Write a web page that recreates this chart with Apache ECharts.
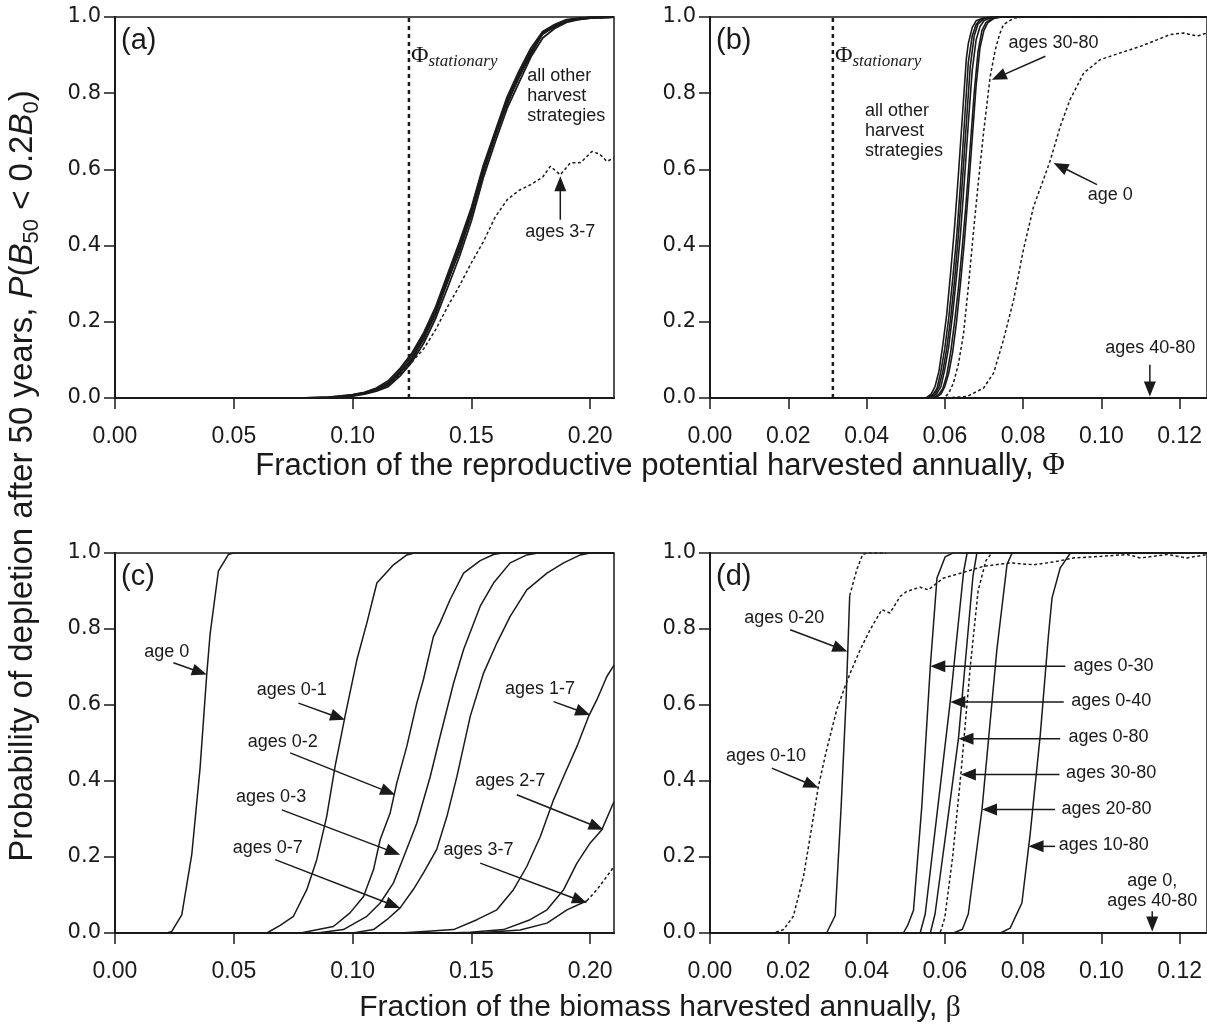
<!DOCTYPE html>
<html><head><meta charset="utf-8">
<script src="https://cdn.jsdelivr.net/npm/echarts@6/dist/echarts.min.js"></script>
<style>html,body{margin:0;padding:0;background:#fff}#c{width:1207px;height:1028px}</style>
</head><body><div id="c"></div>
<script>
// ---------- tick values ----------
const yTicks = [0, 0.2, 0.4, 0.6, 0.8, 1.0];
const xTicksAC = [0, 0.05, 0.10, 0.15, 0.20];
const xTicksBD = [0, 0.02, 0.04, 0.06, 0.08, 0.10, 0.12];
const xMaxAC = 0.21, xMaxBD = 0.127;
const phiStationaryA = 0.1237, phiStationaryB = 0.0314;

// ---------- panel (a) ----------
const a_other1 = [[0,0],[0.08,0],[0.09,0.001],[0.095,0.003],[0.1,0.006],[0.105,0.012],[0.11,0.02],[0.115,0.035],[0.12,0.065],[0.125,0.105],[0.13,0.155],[0.135,0.225],[0.14,0.305],[0.145,0.39],[0.15,0.48],[0.155,0.595],[0.16,0.685],[0.165,0.775],[0.17,0.84],[0.175,0.905],[0.18,0.955],[0.185,0.975],[0.19,0.99],[0.195,0.995],[0.2,0.998],[0.21,1]];
const a_other2 = [[0,0],[0.08,0],[0.09,0.002],[0.095,0.004],[0.1,0.008],[0.105,0.014],[0.11,0.024],[0.115,0.04],[0.12,0.072],[0.125,0.112],[0.13,0.165],[0.135,0.232],[0.14,0.318],[0.145,0.40],[0.15,0.49],[0.155,0.60],[0.16,0.695],[0.165,0.782],[0.17,0.85],[0.175,0.91],[0.18,0.958],[0.185,0.978],[0.19,0.992],[0.195,0.996],[0.2,0.999],[0.21,1]];
const a_other3 = [[0,0],[0.085,0],[0.095,0.002],[0.1,0.005],[0.105,0.01],[0.11,0.018],[0.115,0.03],[0.12,0.058],[0.125,0.095],[0.13,0.145],[0.135,0.21],[0.14,0.29],[0.145,0.372],[0.15,0.465],[0.155,0.578],[0.16,0.672],[0.165,0.76],[0.17,0.828],[0.175,0.895],[0.18,0.945],[0.185,0.97],[0.19,0.986],[0.195,0.993],[0.2,0.997],[0.21,1]];
const a_other4 = [[0,0],[0.08,0],[0.09,0.001],[0.1,0.007],[0.105,0.013],[0.11,0.022],[0.115,0.038],[0.12,0.068],[0.125,0.10],[0.13,0.16],[0.135,0.22],[0.14,0.31],[0.145,0.385],[0.15,0.485],[0.155,0.59],[0.16,0.69],[0.165,0.77],[0.17,0.845],[0.175,0.90],[0.18,0.96],[0.185,0.972],[0.19,0.99],[0.2,0.997],[0.21,1]];
const a_other5 = [[0,0],[0.08,0],[0.09,0.002],[0.1,0.009],[0.105,0.015],[0.11,0.026],[0.115,0.045],[0.12,0.078],[0.125,0.118],[0.13,0.172],[0.135,0.24],[0.14,0.325],[0.145,0.41],[0.15,0.50],[0.155,0.61],[0.16,0.70],[0.165,0.79],[0.17,0.858],[0.175,0.918],[0.18,0.962],[0.185,0.98],[0.19,0.993],[0.195,0.997],[0.2,0.999],[0.21,1]];
const a_ages37 = [[0,0],[0.08,0],[0.09,0.001],[0.1,0.006],[0.11,0.02],[0.115,0.034],[0.12,0.06],[0.125,0.095],[0.13,0.13],[0.135,0.18],[0.14,0.24],[0.145,0.295],[0.15,0.355],[0.155,0.41],[0.16,0.475],[0.165,0.52],[0.17,0.545],[0.175,0.56],[0.18,0.58],[0.1832,0.608],[0.1874,0.586],[0.1916,0.617],[0.196,0.618],[0.2007,0.647],[0.204,0.64],[0.207,0.621],[0.21,0.63]];

// ---------- panel (b) ----------
const b_other1 = [[0,0],[0.0555,0],[0.057,0.01],[0.058,0.025],[0.059,0.07],[0.06,0.13],[0.061,0.21],[0.062,0.31],[0.063,0.42],[0.064,0.56],[0.065,0.72],[0.066,0.88],[0.067,0.95],[0.068,0.98],[0.069,0.992],[0.07,0.997],[0.072,1],[0.127,1]];
const b_other2 = [[0,0],[0.056,0],[0.0575,0.01],[0.0585,0.03],[0.0595,0.07],[0.0605,0.13],[0.0615,0.21],[0.0625,0.31],[0.0635,0.43],[0.0645,0.57],[0.0655,0.72],[0.0665,0.87],[0.0675,0.95],[0.0685,0.982],[0.07,0.995],[0.072,1],[0.127,1]];
const b_other3 = [[0,0],[0.0565,0],[0.058,0.012],[0.059,0.03],[0.06,0.075],[0.061,0.135],[0.062,0.22],[0.063,0.32],[0.064,0.43],[0.065,0.57],[0.066,0.72],[0.067,0.86],[0.068,0.94],[0.069,0.975],[0.07,0.99],[0.0715,0.997],[0.073,1],[0.127,1]];
const b_other4 = [[0,0],[0.057,0],[0.0585,0.01],[0.0595,0.025],[0.0605,0.06],[0.0615,0.12],[0.0625,0.2],[0.0635,0.29],[0.0645,0.4],[0.0655,0.52],[0.0665,0.66],[0.0675,0.8],[0.0685,0.91],[0.0695,0.965],[0.0705,0.985],[0.072,0.996],[0.074,1],[0.127,1]];
const b_other5 = [[0,0],[0.0575,0],[0.059,0.01],[0.06,0.03],[0.061,0.065],[0.062,0.12],[0.063,0.2],[0.064,0.3],[0.065,0.41],[0.066,0.54],[0.067,0.68],[0.068,0.82],[0.069,0.92],[0.07,0.965],[0.071,0.985],[0.0725,0.996],[0.0745,1],[0.127,1]];
const b_other6 = [[0,0],[0.0552,0],[0.0565,0.01],[0.0575,0.03],[0.0585,0.07],[0.0595,0.14],[0.0605,0.22],[0.0615,0.33],[0.0625,0.45],[0.0635,0.59],[0.0645,0.74],[0.0655,0.89],[0.066,0.93],[0.067,0.972],[0.068,0.99],[0.07,0.998],[0.072,1],[0.127,1]];
const b_ages3080 = [[0,0],[0.0597,0],[0.061,0.012],[0.0622,0.039],[0.0635,0.09],[0.0648,0.17],[0.066,0.29],[0.0673,0.433],[0.0686,0.57],[0.0699,0.696],[0.0716,0.844],[0.0729,0.914],[0.074,0.955],[0.075,0.98],[0.0776,0.997],[0.08,1],[0.127,1]];
const b_age0 = [[0,0],[0.0597,0],[0.0657,0.004],[0.0699,0.026],[0.0725,0.066],[0.075,0.153],[0.0776,0.258],[0.0801,0.39],[0.0827,0.503],[0.0852,0.573],[0.087,0.625],[0.0895,0.713],[0.092,0.783],[0.0955,0.853],[0.0997,0.888],[0.1049,0.906],[0.11,0.923],[0.1142,0.94],[0.1176,0.954],[0.121,0.958],[0.1245,0.95],[0.127,0.958]];
const b_ages4080 = [[0,0],[0.127,0]];

// ---------- panel (c) ----------
const c_age0 = [[0,0],[0.0218,0],[0.0239,0.004],[0.0281,0.048],[0.0323,0.206],[0.0358,0.434],[0.0386,0.68],[0.04,0.785],[0.0435,0.952],[0.0477,0.996],[0.0498,1],[0.21,1]];
const c_ages01 = [[0,0],[0.0639,0],[0.0695,0.02],[0.0751,0.044],[0.0807,0.114],[0.0849,0.193],[0.0891,0.307],[0.0926,0.438],[0.0968,0.57],[0.1018,0.719],[0.106,0.816],[0.1102,0.921],[0.1172,0.969],[0.1228,0.995],[0.126,1],[0.21,1]];
const c_ages02 = [[0,0],[0.078,0],[0.0919,0.017],[0.0989,0.053],[0.1046,0.096],[0.1088,0.167],[0.1116,0.246],[0.1158,0.316],[0.1186,0.395],[0.1228,0.491],[0.127,0.605],[0.1298,0.667],[0.134,0.78],[0.1368,0.816],[0.141,0.877],[0.1467,0.947],[0.1537,0.98],[0.1593,0.996],[0.163,1],[0.21,1]];
const c_ages03 = [[0,0],[0.085,0],[0.0961,0.009],[0.106,0.044],[0.1116,0.079],[0.1172,0.132],[0.1221,0.21],[0.127,0.289],[0.1326,0.41],[0.1368,0.517],[0.1425,0.658],[0.1467,0.746],[0.1537,0.86],[0.1593,0.921],[0.1663,0.974],[0.1733,0.995],[0.178,1],[0.21,1]];
const c_ages07 = [[0,0],[0.1,0],[0.1088,0.009],[0.1144,0.035],[0.12,0.066],[0.1256,0.115],[0.13,0.16],[0.1354,0.22],[0.1397,0.307],[0.1439,0.412],[0.1495,0.57],[0.1551,0.684],[0.1607,0.763],[0.1663,0.833],[0.1733,0.903],[0.1818,0.947],[0.1888,0.974],[0.1958,0.995],[0.2,1],[0.21,1]];
const c_ages17 = [[0,0],[0.12,0],[0.13,0.004],[0.1425,0.009],[0.1523,0.035],[0.1607,0.061],[0.1677,0.114],[0.1733,0.175],[0.179,0.254],[0.1846,0.351],[0.1888,0.412],[0.1944,0.491],[0.1993,0.57],[0.2028,0.614],[0.207,0.675],[0.21,0.705]];
const c_ages27 = [[0,0],[0.14,0],[0.1495,0.002],[0.1635,0.009],[0.1747,0.035],[0.1818,0.061],[0.1888,0.114],[0.1944,0.184],[0.2,0.237],[0.2049,0.272],[0.2091,0.333],[0.21,0.345]];
const c_ages37solid = [[0,0],[0.15,0],[0.1565,0.002],[0.1705,0.008],[0.1818,0.026],[0.1902,0.061],[0.1986,0.085]];
const c_ages37dotted = [[0.1986,0.085],[0.2028,0.114],[0.207,0.149],[0.21,0.175]];

// ---------- panel (d) ----------
const d_ages010 = [[0,0],[0.0162,0],[0.0188,0.009],[0.0213,0.044],[0.0239,0.149],[0.0256,0.254],[0.0277,0.386],[0.0298,0.482],[0.0324,0.588],[0.0345,0.649],[0.0362,0.693],[0.0384,0.746],[0.0409,0.798],[0.0439,0.851],[0.046,0.842],[0.0486,0.886],[0.0503,0.899],[0.0537,0.91],[0.0558,0.903],[0.058,0.921],[0.0597,0.934],[0.0657,0.952],[0.0699,0.965],[0.0767,0.974],[0.0827,0.969],[0.0887,0.978],[0.0929,0.987],[0.0997,0.991],[0.1066,0.996],[0.11,0.987],[0.1168,0.996],[0.1219,0.987],[0.127,0.996]];
const d_ages020solid = [[0,0],[0.0298,0],[0.032,0.046],[0.0335,0.33],[0.0348,0.62],[0.0357,0.888]];
const d_ages020dotted = [[0.0357,0.888],[0.0375,0.956],[0.039,0.996],[0.04,1],[0.045,1]];
const d_ages030 = [[0,0],[0.0494,0],[0.0505,0.02],[0.052,0.06],[0.0541,0.33],[0.0563,0.702],[0.058,0.934],[0.0601,0.99],[0.062,1],[0.127,1]];
const d_ages040 = [[0,0],[0.0537,0],[0.055,0.05],[0.0582,0.33],[0.0614,0.61],[0.0638,0.85],[0.0648,0.95],[0.0657,1],[0.127,1]];
const d_ages080 = [[0,0],[0.0563,0],[0.0575,0.05],[0.0605,0.28],[0.0635,0.513],[0.066,0.8],[0.0672,0.94],[0.0682,1],[0.127,1]];
const d_ages3080 = [[0,0],[0.0588,0],[0.06,0.04],[0.062,0.2],[0.0641,0.417],[0.0665,0.7],[0.0685,0.9],[0.0705,0.98],[0.072,1],[0.127,1]];
const d_ages2080 = [[0,0],[0.0622,0],[0.0645,0.01],[0.066,0.05],[0.0695,0.325],[0.0733,0.745],[0.0759,0.97],[0.0772,1],[0.127,1]];
const d_ages1080 = [[0,0],[0.0742,0],[0.0767,0.013],[0.0797,0.079],[0.0818,0.259],[0.0844,0.522],[0.0865,0.785],[0.0874,0.882],[0.0895,0.961],[0.0921,1],[0.127,1]];
const d_age0ages4080 = [[0,0],[0.127,0]];

// ---------- annotations (data coordinates) ----------
const annotations = [
  {g:0, text:'all other\nharvest\nstrategies', at:[0.1735,0.793], align:'left'},
  {g:0, text:'ages 3-7', at:[0.1874,0.436], from:[0.1874,0.468], to:[0.1874,0.582]},
  {g:1, text:'all other\nharvest\nstrategies', at:[0.0396,0.702], align:'left'},
  {g:1, text:'ages 30-80', at:[0.0878,0.932], from:[0.0857,0.897], to:[0.072,0.835]},
  {g:1, text:'age 0', at:[0.1023,0.534], from:[0.0989,0.56], to:[0.0878,0.617]},
  {g:1, text:'ages 40-80', at:[0.1125,0.131], from:[0.1124,0.087], to:[0.1124,0.004]},
  {g:2, text:'age 0', at:[0.0218,0.739], from:[0.0246,0.711], to:[0.0386,0.68]},
  {g:2, text:'ages 0-1', at:[0.0744,0.64], from:[0.0772,0.605], to:[0.0968,0.561]},
  {g:2, text:'ages 0-2', at:[0.0706,0.503], from:[0.0737,0.474], to:[0.1179,0.364]},
  {g:2, text:'ages 0-3', at:[0.0657,0.358], from:[0.0702,0.324], to:[0.12,0.206]},
  {g:2, text:'ages 0-7', at:[0.0643,0.224], from:[0.0674,0.193], to:[0.12,0.066]},
  {g:2, text:'ages 1-7', at:[0.1789,0.643], from:[0.1846,0.609], to:[0.2,0.574]},
  {g:2, text:'ages 2-7', at:[0.1663,0.399], from:[0.1691,0.364], to:[0.2056,0.272]},
  {g:2, text:'ages 3-7', at:[0.153,0.219], from:[0.1537,0.184], to:[0.1986,0.079]},
  {g:3, text:'ages 0-20', at:[0.019,0.829], from:[0.0205,0.798], to:[0.0351,0.741]},
  {g:3, text:'ages 0-10', at:[0.0143,0.465], from:[0.0158,0.434], to:[0.0277,0.382]},
  {g:3, text:'ages 0-30', at:[0.0929,0.702], align:'left', from:[0.0908,0.702], to:[0.0563,0.702]},
  {g:3, text:'ages 0-40', at:[0.0923,0.611], align:'left', from:[0.0904,0.608], to:[0.0614,0.608]},
  {g:3, text:'ages 0-80', at:[0.0916,0.516], align:'left', from:[0.0895,0.511], to:[0.0635,0.511]},
  {g:3, text:'ages 30-80', at:[0.091,0.422], align:'left', from:[0.0893,0.417], to:[0.0641,0.417]},
  {g:3, text:'ages 20-80', at:[0.0898,0.327], align:'left', from:[0.0882,0.325], to:[0.0695,0.325]},
  {g:3, text:'ages 10-80', at:[0.0891,0.231], align:'left', from:[0.0882,0.228], to:[0.0814,0.228]},
  {g:3, text:'age 0,\nages 40-80', at:[0.113,0.11], from:[0.113,0.057], to:[0.113,0.004]}
];
const panelLetters = ['(a)','(b)','(c)','(d)'];

// ---------- build chart ----------
const INK = '#1a1a1a';
const SANS = '"Liberation Sans", Arial, sans-serif';
const SERIF = '"Liberation Serif", "Times New Roman", serif';
const grids = [
  {left:115, top:17, width:499, height:381},
  {left:710, top:17, width:497, height:381},
  {left:115, top:553, width:499, height:380},
  {left:710, top:553, width:497, height:380}
].map(g => Object.assign(g, {show:true, borderColor:INK, borderWidth:1.5, backgroundColor:'transparent'}));

function xAx(i, max, ticks, interval){
  return {type:'value', gridIndex:i, min:0, max:max, interval:interval,
    axisLine:{show:true, onZero:false, lineStyle:{color:INK, width:2}},
    axisTick:{show:true, inside:false, length:11, lineStyle:{color:INK, width:1.5}, customValues:ticks},
    axisLabel:{show:true, margin:27, color:INK, fontFamily:SANS, fontSize:23, customValues:ticks, formatter:v=>v.toFixed(2)},
    splitLine:{show:false}};
}
function yAx(i){
  return {type:'value', gridIndex:i, min:0, max:1, interval:0.2,
    axisLine:{show:true, onZero:false, lineStyle:{color:INK, width:2}},
    axisTick:{show:true, inside:false, length:11, lineStyle:{color:INK, width:1.5}, customValues:yTicks},
    axisLabel:{show:true, margin:14, color:INK, fontFamily:'"DejaVu Sans", sans-serif', fontSize:21, customValues:yTicks, formatter:v=>v.toFixed(1)},
    splitLine:{show:false}};
}
function S(g, data, dotted, width){
  return {type:'line', xAxisIndex:g, yAxisIndex:g, data:data, symbol:'none', showSymbol:false,
    lineStyle:{color:INK, width:width||1.5, type: dotted ? [3,2.5] : 'solid'}, animation:false, silent:true, z:3};
}
const vline = (g, x) => S(g, [[x,0],[x,1]], false, 2.5);

const series = [
  S(0,a_other1,false,1.8),S(0,a_other2,false,1.8),S(0,a_other3,false,1.8),S(0,a_other4,false,1.8),S(0,a_other5,false,1.8),
  S(0,a_ages37,true),
  Object.assign(vline(0,phiStationaryA), {lineStyle:{color:INK,width:2.5,type:[4,4]}}),
  S(1,b_other1,false,1.6),S(1,b_other2,false,1.6),S(1,b_other3,false,1.6),S(1,b_other4,false,1.6),S(1,b_other5,false,1.6),S(1,b_other6,false,1.6),
  S(1,b_ages3080,true),S(1,b_age0,true),S(1,b_ages4080,true,2),
  Object.assign(vline(1,phiStationaryB), {lineStyle:{color:INK,width:2.5,type:[4,4]}}),
  S(2,c_age0),S(2,c_ages01),S(2,c_ages02),S(2,c_ages03),S(2,c_ages07),S(2,c_ages17),S(2,c_ages27),S(2,c_ages37solid),S(2,c_ages37dotted,true),
  S(3,d_ages010,true),S(3,d_ages020solid),S(3,d_ages020dotted,true),S(3,d_ages030),S(3,d_ages040),S(3,d_ages080),S(3,d_ages3080,true),
  S(3,d_ages2080),S(3,d_ages1080),S(3,d_age0ages4080,true,2)
];

const chart = echarts.init(document.getElementById('c'), null, {renderer:'canvas', width:1207, height:1028});
chart.setOption({
  animation:false,
  backgroundColor:'#fff',
  grid:grids,
  xAxis:[xAx(0,xMaxAC,xTicksAC,0.05), xAx(1,xMaxBD,xTicksBD,0.02), xAx(2,xMaxAC,xTicksAC,0.05), xAx(3,xMaxBD,xTicksBD,0.02)],
  yAxis:[yAx(0),yAx(1),yAx(2),yAx(3)],
  series:series
});

// ---------- graphics from data coords ----------
const P = (g, pt) => chart.convertToPixel({gridIndex:g}, pt);
const els = [];
function arrow(g, from, to){
  const p0 = P(g, from), p1 = P(g, to);
  const dx = p1[0]-p0[0], dy = p1[1]-p0[1], L = Math.hypot(dx,dy);
  const ux = dx/L, uy = dy/L, hl = 15, hw = 6;
  const bx = p1[0]-ux*hl, by = p1[1]-uy*hl;
  els.push({type:'line', z:50, shape:{x1:p0[0],y1:p0[1],x2:bx+ux*2,y2:by+uy*2}, style:{stroke:INK, lineWidth:1.5}});
  els.push({type:'polygon', z:50, shape:{points:[[p1[0],p1[1]],[bx-uy*hw,by+ux*hw],[bx+uy*hw,by-ux*hw]]}, style:{fill:INK}});
}
annotations.forEach(a => {
  const p = P(a.g, a.at);
  els.push({type:'text', z:50, x:p[0], y:p[1], style:{text:a.text, fill:INK, font:'18px ' + SANS, lineHeight:20,
    align:a.align||'center', verticalAlign:'middle'}});
  if (a.from) arrow(a.g, a.from, a.to);
});
panelLetters.forEach((t,i) => {
  const p = P(i, [0,1]);
  els.push({type:'text', z:50, x:p[0]+6, y:p[1]+24, style:{text:t, fill:INK, font:'29px ' + SANS, align:'left', verticalAlign:'middle'}});
});
[[0,phiStationaryA],[1,phiStationaryB]].forEach(([g,x]) => {
  const p = P(g, [x,1]);
  els.push({type:'text', z:50, x:p[0]+2, y:p[1]+39, style:{text:'{p|Φ}{s|stationary}', fill:INK, align:'left', verticalAlign:'middle',
    lineHeight:28, rich:{p:{fontFamily:SERIF, fontSize:24, lineHeight:28, fill:INK}, s:{fontFamily:SERIF, fontStyle:'italic', fontSize:17, lineHeight:17, verticalAlign:'bottom', fill:INK}}}});
});
els.push({type:'text', z:50, x:660, y:466, style:{text:'Fraction of the reproductive potential harvested annually, {p|Φ}', fill:INK,
  font:'31px ' + SANS, align:'center', verticalAlign:'middle', rich:{p:{fontFamily:SERIF, fontSize:31, fill:INK}}}});
els.push({type:'text', z:50, x:660, y:1008, style:{text:'Fraction of the biomass harvested annually, {p|β}', fill:INK,
  font:'30px ' + SANS, align:'center', verticalAlign:'middle', rich:{p:{fontFamily:SERIF, fontSize:30, fill:INK}}}});
els.push({type:'text', z:50, x:23, y:476, rotation:Math.PI/2, style:{
  text:'Probability of depletion after 50 years, {i|P}({i|B}{s|50} < 0.2{i|B}{s|0})', fill:INK,
  fontFamily:SANS, fontSize:33, lineHeight:40, align:'center', verticalAlign:'middle',
  rich:{i:{fontFamily:SANS, fontStyle:'italic', fontSize:33, lineHeight:40, fill:INK}, s:{fontFamily:SANS, fontSize:22, lineHeight:22, verticalAlign:'bottom', fill:INK}}}});
chart.setOption({graphic:{elements:els}});
</script></body></html>
